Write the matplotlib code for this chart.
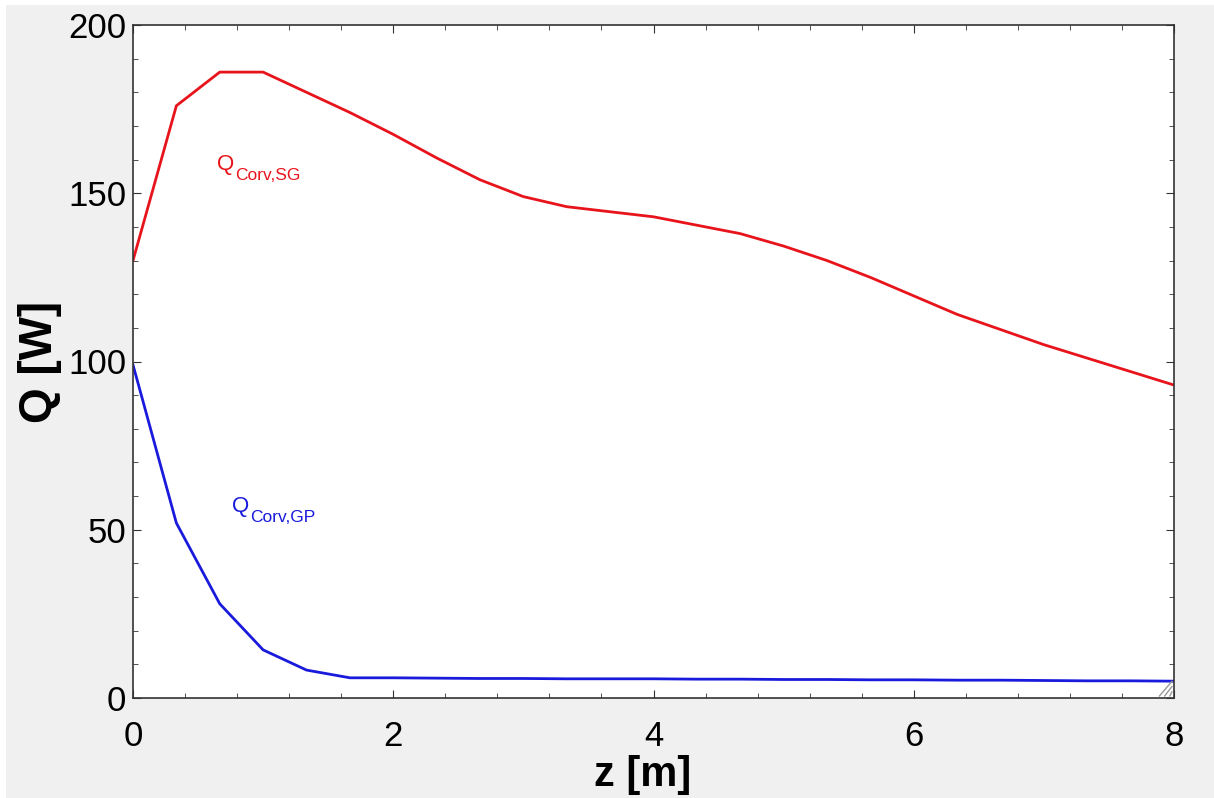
import matplotlib
matplotlib.use('Agg')
import matplotlib.pyplot as plt
from matplotlib.patches import Rectangle
from matplotlib.ticker import MultipleLocator
import numpy as np

plt.rcParams['font.family'] = ['Liberation Sans', 'DejaVu Sans']

# data (z in m, Q in W)
z = [0, 1/3, 2/3, 1, 4/3, 5/3, 2, 7/3, 8/3, 3, 10/3, 11/3, 4, 13/3, 14/3, 5,
     16/3, 17/3, 6, 19/3, 20/3, 7, 22/3, 23/3, 8]
q_sg = [130, 176, 186, 186, 180, 174, 167.5, 160.5, 154, 149, 146, 144.5, 143,
        140.5, 138, 134.3, 130, 125, 119.5, 114, 109.5, 105, 101, 97, 93]
q_gp = [99, 52, 28, 14.3, 8.3, 6.0, 6.0, 5.9, 5.8, 5.8, 5.7, 5.7, 5.7, 5.6,
        5.6, 5.5, 5.5, 5.4, 5.4, 5.3, 5.3, 5.2, 5.1, 5.1, 5.0]

red = '#e8141c'
blue = '#1a1adc'

fig = plt.figure(figsize=(12.14, 7.98), dpi=100, facecolor='white')
fig.patches.append(Rectangle((6/1214, 0), 1, 793/798, transform=fig.transFigure,
                             facecolor='#f0f0f0', edgecolor='none', zorder=-10))
ax = fig.add_axes([133/1214, 100/798, (1174-133)/1214, (698-25)/798])

ax.plot(z, q_sg, color=red, lw=2)
ax.plot(z, q_gp, color=blue, lw=2)


def sub_label(x, y, sub, color):
    t = ax.text(x, y, 'Q', color=color, fontsize=16, va='baseline')
    ax.annotate(sub, xy=(1, 0), xycoords=t, xytext=(0.5, -3.6),
                textcoords='offset points', color=color, fontsize=12.5,
                va='baseline', ha='left')


sub_label(0.646, 156.9, 'Corv,SG', red)
sub_label(0.761, 55.3, 'Corv,GP', blue)

ax.set_xlim(0, 8)
ax.set_ylim(0, 200)
ax.xaxis.set_major_locator(MultipleLocator(2))
ax.xaxis.set_minor_locator(MultipleLocator(0.4))
ax.yaxis.set_major_locator(MultipleLocator(50))
ax.yaxis.set_minor_locator(MultipleLocator(10))
ax.tick_params(which='both', direction='in', top=True, right=True,
               labeltop=False, labelright=False, color='#333333')
ax.tick_params(which='major', length=6, labelsize=25)
ax.tick_params(axis='x', which='major', pad=16)
ax.tick_params(axis='y', which='major', pad=5)
ax.tick_params(which='minor', length=3.5)
for s in ax.spines.values():
    s.set_color('#333333')
    s.set_linewidth(1.2)

ax.set_xlabel('z [m]', fontsize=30, fontweight='bold')
ax.xaxis.set_label_coords(0.49, -0.085)
ax.set_ylabel('Q [W]', fontsize=33, fontweight='bold', labelpad=4)

# resize grip in the corner
for k in range(3):
    d = 0.004 + k * 0.005
    ax.plot([1 - d, 0.998], [0.003, 0.003 + d * 1041 / 673], transform=ax.transAxes,
            color='#999999', lw=1, clip_on=False)

fig.savefig('out.png', dpi=100, facecolor=fig.get_facecolor())
